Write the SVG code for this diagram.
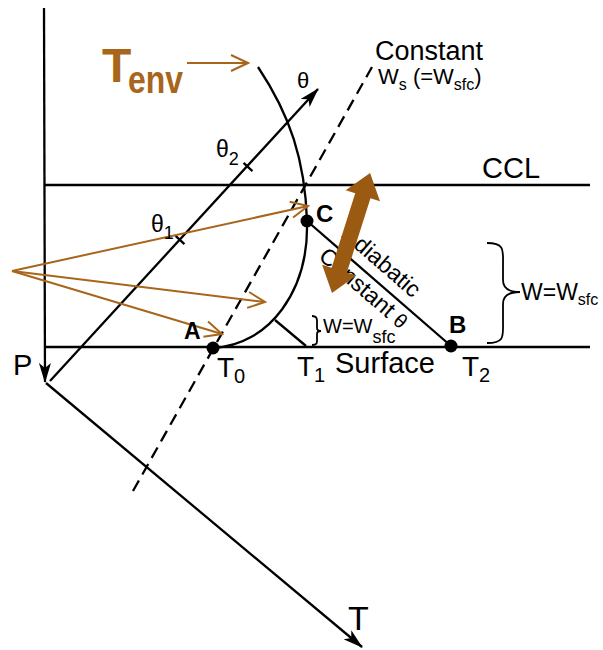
<svg xmlns="http://www.w3.org/2000/svg" width="603" height="650" viewBox="0 0 603 650">
<style>
  text { font-family: "Liberation Sans", Arial, sans-serif; fill: #000; }
  .ax { stroke: #000; stroke-width: 2.3; fill: none; }
  .thin { stroke: #000; stroke-width: 1.8; fill: none; }
  .br { stroke: #A7661B; stroke-width: 2; fill: none; }
  .bold { font-weight: bold; }
  .env { fill: #A7661B; font-weight: bold; }
</style>
<defs>
  <marker id="ah" viewBox="0 0 20 12" refX="19" refY="6" markerWidth="20" markerHeight="12" orient="auto" markerUnits="userSpaceOnUse">
    <path d="M0,0 L20,6 L0,12 L5,6 Z" fill="#000"/>
  </marker>
  <marker id="ob" viewBox="0 0 20 20" refX="18" refY="10" markerWidth="20" markerHeight="20" orient="auto" markerUnits="userSpaceOnUse">
    <path d="M1,2 L18,10 L1,18" fill="none" stroke="#A7661B" stroke-width="2"/>
  </marker>
</defs>
<rect width="603" height="650" fill="#fff"/>

<g id="connectors">
  <!-- axes -->
  <line class="ax" x1="44" y1="8" x2="45" y2="382" marker-end="url(#ah)"/>
  <line class="ax" x1="46" y1="383" x2="362" y2="647" marker-end="url(#ah)"/>
  <line class="ax" x1="50" y1="381" x2="318" y2="89" marker-end="url(#ah)"/>
  <!-- ticks -->
  <line class="ax" x1="243.6" y1="162.9" x2="252.4" y2="171.1"/>
  <line class="ax" x1="175.6" y1="235.9" x2="184.4" y2="244.1"/>
  <!-- CCL and surface -->
  <line class="ax" x1="44" y1="185" x2="590" y2="185" stroke-width="2.5"/>
  <line class="ax" x1="44" y1="347" x2="590" y2="347" stroke-width="2.8"/>
  <!-- constant Ws dashed -->
  <line class="ax" x1="133" y1="491" x2="372" y2="67" stroke-dasharray="12 7"/>
  <!-- environment curve -->
  <path class="ax" stroke-width="3.2" d="M258,67 C290,115 305,160 307,221 C309,290 270,345 213,348"/>
  <!-- adiabat C-B -->
  <line class="ax" x1="307" y1="221" x2="451" y2="346"/>
  <!-- small line T1 to curve -->
  <line class="ax" x1="306" y1="346" x2="275" y2="320"/>
  <!-- braces -->
  <path class="thin" d="M312,316 C318,316 317,320 317,325 L317,328 C317,330 319,331 321,331 C319,331 317,332 317,334 L317,338 C317,342 318,345 312,345"/>
  <path class="thin" d="M487,243 C505,243 503,250 503,265 L503,280 C503,288 508,292 520,292 C508,292 503,296 503,304 L503,322 C503,336 505,343 487,343"/>
  <!-- brown pointers -->
  <line class="br" x1="187" y1="63" x2="248" y2="63" marker-end="url(#ob)"/>
  <line class="br" x1="12" y1="271" x2="308" y2="206" marker-end="url(#ob)"/>
  <line class="br" x1="12" y1="271" x2="265" y2="302" marker-end="url(#ob)"/>
  <line class="br" x1="12" y1="271" x2="222" y2="334" marker-end="url(#ob)"/>
</g>

<g id="node-A">
  <circle cx="213" cy="348" r="6.5" fill="#000"/>
  <text x="184" y="339" font-size="23" class="bold">A</text>
</g>
<g id="node-B">
  <circle cx="451" cy="346" r="6.5" fill="#000"/>
  <text x="449" y="333" font-size="24" class="bold">B</text>
</g>
<g id="node-C">
  <circle cx="307" cy="221" r="6.5" fill="#000"/>
  <text x="316" y="222" font-size="24" class="bold">C</text>
</g>

<g id="labels">
  <text x="375" y="60" font-size="27">Constant</text>
  <text x="378" y="84" font-size="22">W<tspan font-size="16" dy="6">s</tspan><tspan dy="-6"> (=W</tspan><tspan font-size="16" dy="6">sfc</tspan><tspan dy="-6">)</tspan></text>
  <text x="297" y="88" font-size="22">θ</text>
  <text x="216" y="157" font-size="23">θ<tspan font-size="18" dy="8">2</tspan></text>
  <text x="151" y="232" font-size="23">θ<tspan font-size="18" dy="7">1</tspan></text>
  <text x="482" y="178" font-size="29">CCL</text>
  <text x="335" y="373" font-size="29">Surface</text>
  <text x="13" y="375" font-size="29">P</text>
  <text x="348" y="630" font-size="34">T</text>
  <text x="217" y="377" font-size="28">T<tspan font-size="20" dy="6">0</tspan></text>
  <text x="297" y="376" font-size="28">T<tspan font-size="20" dy="6">1</tspan></text>
  <text x="462" y="376" font-size="28">T<tspan font-size="20" dy="6">2</tspan></text>
  <text x="323" y="333" font-size="20">W=W<tspan font-size="18" dy="10">sfc</tspan></text>
  <text x="521" y="300" font-size="23">W=W<tspan font-size="16" dy="5">sfc</tspan></text>
  <text transform="translate(341,236.5) rotate(41)" font-size="23">Adiabatic</text>
  <text transform="translate(317.5,258) rotate(41)" font-size="23">Constant <tspan font-size="20">θ</tspan></text>
  <text x="102" y="82" font-size="48" class="env">T</text>
  <text x="128" y="93" font-size="38" class="env" textLength="55" lengthAdjust="spacingAndGlyphs">env</text>
</g>

<g id="double-arrow">
  <polygon transform="translate(332,293) rotate(-72.4)" fill="#9B5A12" points="0,0 24,-18 24,-8 102,-8 102,-18 126,0 102,18 102,8 24,8 24,18"/>
</g>
</svg>
